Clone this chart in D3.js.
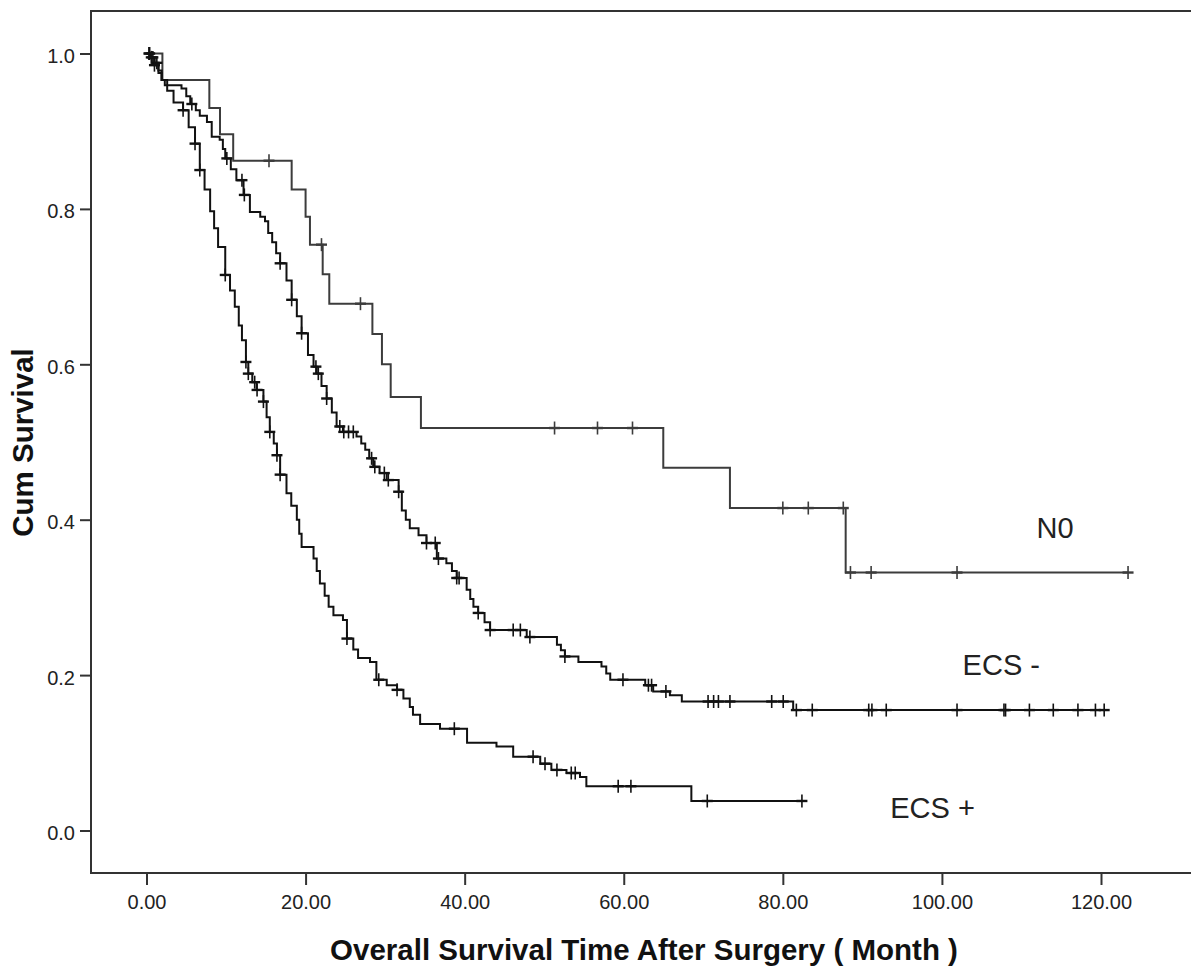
<!DOCTYPE html>
<html><head><meta charset="utf-8">
<script src="https://cdn.jsdelivr.net/npm/d3@7"></script>
<style>body{margin:0;background:#fff}svg{display:block}</style>
</head><body><svg id="c" width="1191" height="967"></svg>
<script>
// ---- data ----
const xTicks = [0, 20, 40, 60, 80, 100, 120];
const yTicks = [0, 0.2, 0.4, 0.6, 0.8, 1.0];
const xTitle = "Overall Survival Time After Surgery ( Month )";
const yTitle = "Cum Survival";
const seriesNames = ["N0", "ECS -", "ECS +"];
const labelTimes = [111.9, 102.6, 93.5];
const labelSurv = [0.377, 0.200, 0.016];

const n0Times = [0, 2.0, 7.9, 9.24, 10.9, 18.25, 20.0, 20.55, 22.15, 22.98, 28.4, 29.6, 30.7, 34.5, 64.97, 73.35, 87.9];
const n0Surv  = [1, 0.966, 0.930, 0.896, 0.862, 0.825, 0.790, 0.754, 0.716, 0.678, 0.639, 0.600, 0.558, 0.518, 0.467, 0.415, 0.332];
const n0End = 123.4;
const n0Censor = [15.4, 22.0, 26.9, 51.3, 56.7, 61.1, 80.0, 83.2, 87.6, 88.5, 91.1, 101.9, 123.4];

const ecsNegTimes = [0, 0.5, 1.0, 1.5, 1.9, 2.3, 4.4, 5.0, 5.5, 6.2, 6.7, 7.6, 8.2, 9.2, 9.6, 9.9, 10.6, 11.3, 12.2, 13.0, 14.3, 14.9, 15.3, 15.8, 16.3, 16.8, 17.6, 18.25, 18.9, 19.5, 20.3, 21.0, 21.4, 22.0, 22.65, 23.3, 23.9, 24.7, 26.4, 27.0, 27.5, 28.0, 28.5, 29.3, 30.2, 31.7, 32.1, 32.6, 33.1, 34.2, 35.2, 36.5, 37.7, 38.4, 39.0, 40.25, 40.7, 41.1, 41.7, 42.5, 43.2, 47.8, 51.6, 52.1, 52.6, 54.3, 57.2, 57.8, 58.3, 62.7, 63.7, 65.8, 67.3, 81.3];
const ecsNegSurv  = [1, 0.995, 0.988, 0.978, 0.966, 0.959, 0.955, 0.945, 0.935, 0.927, 0.920, 0.912, 0.893, 0.889, 0.877, 0.865, 0.851, 0.837, 0.818, 0.796, 0.790, 0.784, 0.769, 0.757, 0.743, 0.730, 0.708, 0.683, 0.662, 0.640, 0.612, 0.597, 0.588, 0.572, 0.556, 0.538, 0.520, 0.513, 0.507, 0.498, 0.490, 0.479, 0.468, 0.460, 0.451, 0.436, 0.412, 0.400, 0.389, 0.380, 0.370, 0.350, 0.344, 0.334, 0.325, 0.310, 0.298, 0.288, 0.280, 0.268, 0.258, 0.249, 0.239, 0.232, 0.224, 0.217, 0.211, 0.202, 0.194, 0.187, 0.179, 0.174, 0.166, 0.155];
const ecsNegEnd = 120.4;
const ecsNegCensor = [0.4, 0.8, 1.3, 5.7, 10.1, 12.0, 12.3, 16.8, 18.25, 19.5, 21.3, 21.6, 22.65, 24.3, 24.8, 25.4, 26.0, 28.3, 28.7, 29.9, 30.4, 31.7, 35.2, 36.3, 36.7, 39.0, 39.3, 41.7, 43.2, 46.1, 47.0, 48.2, 52.6, 59.9, 63.1, 63.5, 65.3, 70.6, 71.3, 71.9, 73.35, 78.6, 80.05, 81.7, 83.7, 90.8, 91.2, 93.0, 101.9, 107.8, 108.0, 111.0, 114.0, 117.1, 119.3, 120.4];

const ecsPosTimes = [0, 0.5, 1.0, 1.5, 1.9, 2.6, 3.4, 4.6, 5.3, 6.1, 6.7, 7.3, 8.0, 8.5, 9.0, 9.9, 10.5, 11.1, 11.6, 12.0, 12.5, 12.8, 13.3, 13.85, 14.7, 15.1, 15.5, 16.0, 16.4, 16.8, 17.6, 18.2, 18.9, 19.2, 19.5, 21.0, 21.4, 21.8, 22.4, 22.9, 23.5, 24.7, 25.2, 26.0, 26.6, 28.1, 28.9, 30.2, 31.5, 32.3, 33.1, 33.5, 34.4, 36.9, 40.3, 44.0, 46.1, 49.5, 50.9, 52.8, 54.5, 55.3, 68.5];
const ecsPosSurv  = [1, 0.995, 0.985, 0.975, 0.966, 0.952, 0.937, 0.927, 0.905, 0.884, 0.850, 0.825, 0.797, 0.775, 0.751, 0.715, 0.695, 0.674, 0.650, 0.631, 0.603, 0.588, 0.577, 0.567, 0.552, 0.532, 0.513, 0.498, 0.483, 0.458, 0.434, 0.418, 0.400, 0.382, 0.365, 0.350, 0.334, 0.318, 0.302, 0.288, 0.277, 0.271, 0.247, 0.233, 0.222, 0.217, 0.194, 0.187, 0.181, 0.170, 0.159, 0.149, 0.137, 0.131, 0.113, 0.108, 0.095, 0.086, 0.078, 0.074, 0.069, 0.057, 0.038];
const ecsPosEnd = 82.4;
const ecsPosCensor = [0.3, 0.6, 1.0, 4.6, 6.1, 6.7, 9.9, 12.5, 12.8, 13.6, 13.9, 14.7, 15.5, 16.4, 16.8, 25.2, 29.2, 31.5, 38.7, 48.6, 50.1, 51.6, 53.4, 53.9, 59.3, 60.9, 70.5, 82.4];

// ---- chart ----
const svg = d3.select("#c");
const W = 1191, H = 967;
const frame = {left: 91, top: 11, bottom: 873, right: 1200};
const x = d3.scaleLinear().domain([0, 120]).range([146.5, 1101]);
const y = d3.scaleLinear().domain([0, 1]).range([830.5, 53.5]);

const series = [
  {name: seriesNames[0], times: n0Times, surv: n0Surv, end: n0End, censor: n0Censor, color: "#3c3c3c"},
  {name: seriesNames[1], times: ecsNegTimes, surv: ecsNegSurv, end: ecsNegEnd, censor: ecsNegCensor, color: "#111"},
  {name: seriesNames[2], times: ecsPosTimes, surv: ecsPosSurv, end: ecsPosEnd, censor: ecsPosCensor, color: "#111"}
];

function survAt(s, t) {
  let v = s.surv[0];
  for (let i = 0; i < s.times.length; i++) if (s.times[i] <= t) v = s.surv[i];
  return v;
}

// frame
const fc = "#333";
svg.append("line").attr("x1", frame.left).attr("x2", frame.left).attr("y1", frame.top).attr("y2", frame.bottom)
  .attr("stroke", fc).attr("stroke-width", 2);
svg.append("line").attr("x1", frame.left - 1).attr("x2", frame.right).attr("y1", frame.top).attr("y2", frame.top)
  .attr("stroke", fc).attr("stroke-width", 2);
svg.append("line").attr("x1", frame.left - 1).attr("x2", frame.right).attr("y1", frame.bottom).attr("y2", frame.bottom)
  .attr("stroke", fc).attr("stroke-width", 2);

// axes
const xAxis = d3.axisBottom(x).tickValues(xTicks).tickFormat(d3.format(".2f")).tickSize(12).tickPadding(10);
const gx = svg.append("g").attr("transform", `translate(0,${frame.bottom})`).call(xAxis);
gx.select(".domain").remove();
gx.selectAll(".tick line").attr("stroke", fc).attr("stroke-width", 2);
gx.selectAll(".tick text").attr("font-family", "'Liberation Sans', Arial, sans-serif").attr("font-size", 20).attr("fill", "#222");

const yAxis = d3.axisLeft(y).tickValues(yTicks).tickFormat(d3.format(".1f")).tickSize(11).tickPadding(5);
const gy = svg.append("g").attr("transform", `translate(${frame.left},0)`).call(yAxis);
gy.select(".domain").remove();
gy.selectAll(".tick line").attr("stroke", fc).attr("stroke-width", 2);
gy.selectAll(".tick text").attr("font-family", "'Liberation Sans', Arial, sans-serif").attr("font-size", 20).attr("fill", "#222").attr("dy", "0.45em");

// curves
const line = d3.line().x(d => x(d[0])).y(d => y(d[1])).curve(d3.curveStepAfter);
series.forEach(s => {
  const pts = s.times.map((t, i) => [t, s.surv[i]]);
  pts.push([s.end, s.surv[s.surv.length - 1]]);
  svg.append("path").datum(pts).attr("d", line).attr("fill", "none")
    .attr("stroke", s.color).attr("stroke-width", 2);
  const g = svg.append("g");
  s.censor.forEach(t => {
    const cx = x(t), cy = y(survAt(s, t));
    g.append("line").attr("x1", cx).attr("x2", cx).attr("y1", cy - 6.5).attr("y2", cy + 6.5)
      .attr("stroke", s.color).attr("stroke-width", 1.6);
    g.append("line").attr("x1", cx - 5.5).attr("x2", cx + 5.5).attr("y1", cy).attr("y2", cy)
      .attr("stroke", s.color).attr("stroke-width", 2.4);
  });
});

// series labels
seriesNames.forEach((n, i) => {
  svg.append("text").attr("x", x(labelTimes[i])).attr("y", y(labelSurv[i]))
    .attr("font-family", "'Liberation Sans', Arial, sans-serif").attr("font-size", 29).attr("fill", "#222")
    .text(n);
});

// titles
svg.append("text").attr("x", 644).attr("y", 960).attr("text-anchor", "middle")
  .attr("font-family", "'Liberation Sans', Arial, sans-serif").attr("font-weight", "bold").attr("font-size", 29.5)
  .attr("fill", "#111").text(xTitle);
svg.append("text").attr("transform", "translate(33,442.5) rotate(-90)").attr("text-anchor", "middle")
  .attr("font-family", "'Liberation Sans', Arial, sans-serif").attr("font-weight", "bold").attr("font-size", 29.5)
  .attr("fill", "#111").text(yTitle);
</script></body></html>
